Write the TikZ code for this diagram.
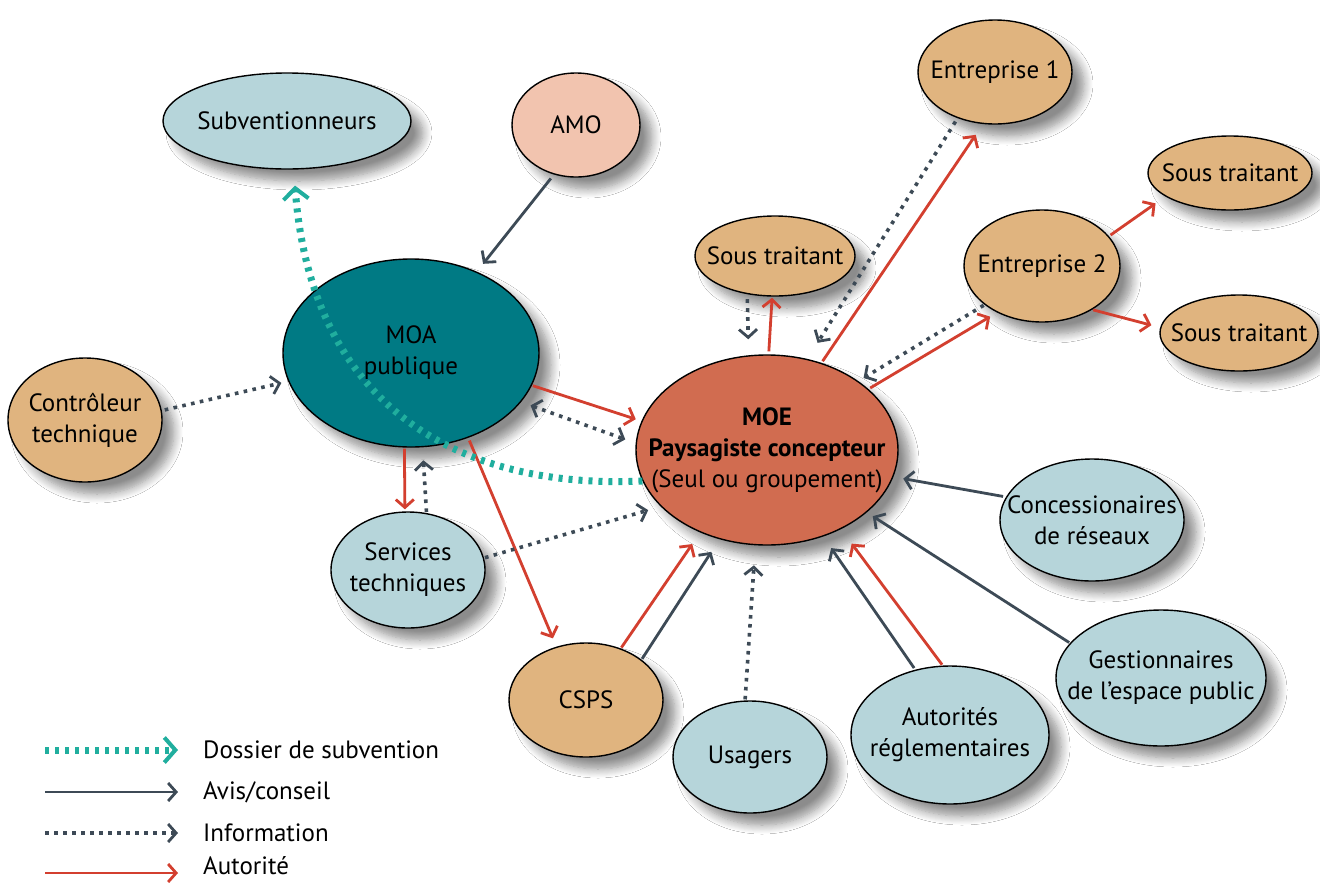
\documentclass[tikz,border=0pt]{standalone}
\usepackage{fontspec}
\setmainfont{PT Sans}
\usetikzlibrary{shapes.geometric,arrows.meta,shadows.blur}
\definecolor{cblue}{HTML}{B6D5DA}
\definecolor{ctan}{HTML}{E0B47F}
\definecolor{cpink}{HTML}{F2C4AF}
\definecolor{cteal}{HTML}{007A84}
\definecolor{cmoe}{HTML}{D16C50}
\definecolor{cred}{HTML}{D33F2F}
\definecolor{cslate}{HTML}{3D4A56}
\definecolor{cdoss}{HTML}{20AE9E}
\tikzset{
  bubs/.style={ellipse, draw=black, line width=1.4pt, inner sep=0pt,
    blur shadow={shadow xshift=12pt, shadow yshift=-12pt, shadow blur radius=9pt, shadow blur steps=10, shadow opacity=45}},
  lbl/.style={align=center, inner sep=0pt, text=black, font=\fontsize{25}{31}\selectfont},
  tipb/.style={-{Straight Barb[length=8pt,width=18pt]}},
  avis/.style={draw=cslate, line width=2.8pt, tipb},
  autor/.style={draw=cred, line width=2.8pt, tipb},
  info/.style={draw=cslate, line width=3.6pt, dash pattern=on 3.6pt off 5.4pt,
    -{Straight Barb[length=8pt,width=18pt,line width=2.8pt]}},
  infob/.style={draw=cslate, line width=3.6pt, dash pattern=on 3.6pt off 5.4pt,
    {Straight Barb[length=8pt,width=18pt,line width=2.8pt]}-{Straight Barb[length=8pt,width=18pt,line width=2.8pt]}},
  doss/.style={draw=cdoss, line width=7pt, dash pattern=on 4pt off 6pt,
    -{Straight Barb[length=11pt,width=25pt,line width=4pt]}},
}
\newcommand\bub[6]{%
  \node[bubs, fill=#1, minimum width=#4, minimum height=#5] (#2) at (#3) {};
  \node[lbl] (#2-t) at (#2.center) {#6};}
\begin{document}
\begin{tikzpicture}[x=1pt,y=-1pt]
\useasboundingbox[fill=white] (0,0) rectangle (1320,884);
\bub{cblue}{subv}{287,121}{248pt}{96pt}{Subventionneurs}
\bub{cpink}{amo}{576,125}{128pt}{104pt}{AMO}
\bub{ctan}{ent1}{995,72}{154pt}{104pt}{Entreprise 1}
\bub{ctan}{st1}{1230,173}{164pt}{74pt}{Sous traitant}
\bub{ctan}{st2}{775,256}{160pt}{80pt}{Sous traitant}
\bub{ctan}{ent2}{1042,266}{156pt}{112pt}{Entreprise 2}
\bub{ctan}{st3}{1239,333}{158pt}{76pt}{Sous traitant}
\bub{cteal}{moa}{411,353}{256pt}{188pt}{MOA\\publique}
\bub{ctan}{ctrl}{85,420}{154pt}{124pt}{Contrôleur\\technique}
\bub{cmoe}{moe}{767,450}{262pt}{190pt}{\textbf{MOE}\\\textbf{Paysagiste concepteur}\\(Seul ou groupement)}
\bub{cblue}{serv}{408,570}{154pt}{116pt}{Services\\techniques}
\bub{cblue}{conc}{1092,520}{184pt}{122pt}{Concessionaires\\de réseaux}
\bub{cblue}{gest}{1161,678}{210pt}{136pt}{Gestionnaires\\de l’espace public}
\bub{ctan}{csps}{586,700}{154pt}{114pt}{CSPS}
\bub{cblue}{usag}{750,757}{154pt}{112pt}{Usagers}
\bub{cblue}{autr}{950,735}{198pt}{138pt}{Autorités\\réglementaires}

% connectors
\draw[avis, shorten <=5pt, shorten >=10pt] (amo.246) -- (moa.51);
\draw[info, shorten <=3pt, shorten >=7pt] (ctrl.7) -- (moa.193);
\draw[autor, shorten <=1pt, shorten >=6pt] (moa.345) -- (moe.167);
\draw[infob, shorten <=10pt, shorten >=11pt] (moa.336) -- (moe.177);
\draw[autor, shorten <=1pt, shorten >=2pt] (moa.266) -- (serv.93);
\draw[info, shorten <=1pt, shorten >=13pt] (serv.72) -- (moa.277);
\draw[autor, shorten <=3pt, shorten >=9pt] (moa.304) -- (csps.119);
\draw[info, shorten <=1pt, shorten >=13pt] (serv.9) -- (moe.208);
\draw[autor, shorten <=1pt, shorten >=14pt] (csps.56) -- (moe.231);
\draw[avis, shorten <=1pt, shorten >=15pt] (csps.36) -- (moe.242);
\draw[info, shorten <=1pt, shorten >=20pt] (usag.95) -- (moe.263);
\draw[avis, shorten <=2pt, shorten >=14pt] (autr.118) -- (moe.303);
\draw[autor, shorten <=1pt, shorten >=18pt] (autr.96) -- (moe.313);
\draw[avis, shorten <=1pt, shorten >=7pt] (gest.159) -- (moe.328);
\draw[avis, shorten <=3pt, shorten >=10pt] (conc.165) -- (moe.348);
\draw[autor, shorten <=3pt, shorten >=1pt] (moe.89) -- (st2.266);
\draw[info, shorten <=5pt, shorten >=16pt] (st2.234) -- (moe.101);
\draw[autor, shorten <=2pt, shorten >=13pt] (moe.58) -- (ent1.257);
\draw[info, shorten <=4pt, shorten >=19pt] (ent1.231) -- (moe.66);
\draw[autor, shorten <=2pt, shorten >=8pt] (moe.31) -- (ent2.226);
\draw[info, shorten <=1pt, shorten >=6pt] (ent2.214) -- (moe.37);
\draw[autor, shorten <=2pt, shorten >=12pt] (ent2.24) -- (st1.200);
\draw[autor, shorten <=1pt, shorten >=9pt] (ent2.319) -- (st3.176);
\draw[doss, shorten >=16pt] (moe.194) .. controls (440,490) and (310,390) .. (subv.278);

% legend
\coordinate (l1a) at (45,750); \coordinate (l1b) at (178,750);
\coordinate (l2a) at (45,792); \coordinate (l2b) at (178,792);
\coordinate (l3a) at (45,833); \coordinate (l3b) at (178,833);
\coordinate (l4a) at (45,873); \coordinate (l4b) at (178,873);
\draw[doss] (l1a) -- (l1b);
\draw[avis] (l2a) -- (l2b);
\draw[info] (l3a) -- (l3b);
\draw[autor] (l4a) -- (l4b);
\node[lbl, anchor=west] (t1) at (203,750) {Dossier de subvention};
\node[lbl, anchor=west] (t2) at (203,792) {Avis/conseil};
\node[lbl, anchor=west] (t3) at (203,833) {Information};
\node[lbl, anchor=west] (t4) at (203,866) {Autorité};
\end{tikzpicture}
\end{document}
